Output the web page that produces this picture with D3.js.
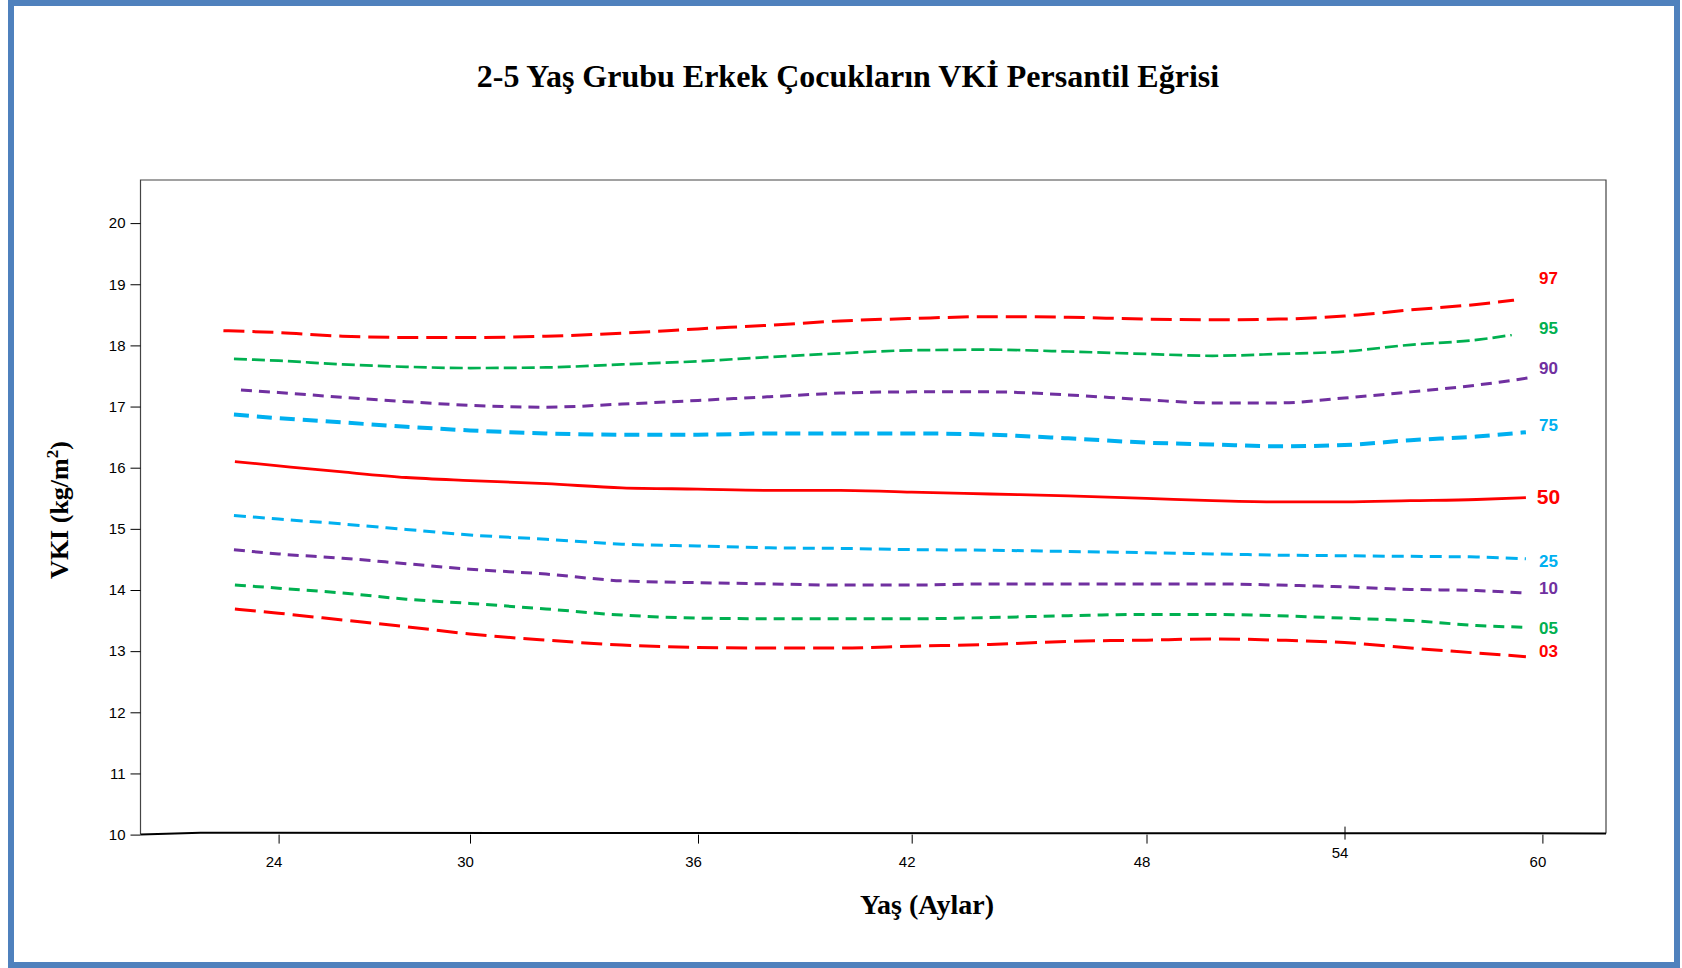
<!DOCTYPE html>
<html><head><meta charset="utf-8">
<script src="https://cdn.jsdelivr.net/npm/d3@7"></script>
<style>html,body{margin:0;padding:0;background:#fff;} svg{display:block}</style>
</head><body><svg id="c" width="1682" height="968"></svg>
<script>
// ---------------- DATA ----------------
const chartTitle = "2-5 Yaş Grubu Erkek Çocukların VKİ Persantil Eğrisi";
const xTitle = "Yaş (Aylar)";
const xTicks = [24, 30, 36, 42, 48, 54, 60];
const yTicks = [10, 11, 12, 13, 14, 15, 16, 17, 18, 19, 20];
// sample months (first/last replaced per series)
const months = [22.6, 24, 26, 28, 30, 32, 34, 36, 38, 40, 42, 44, 46, 48, 50, 52, 54, 56, 58, 59.5];
const seriesNames = ["97", "95", "90", "75", "50", "25", "10", "05", "03"];
const firstMonth = [22.27, 22.6, 22.82, 22.6, 22.63, 22.6, 22.6, 22.63, 22.63];
const lastMonth  = [59.14, 59.07, 59.72, 59.5, 59.5, 59.5, 59.5, 59.52, 59.5];
const p97 = [18.24, 18.21, 18.15, 18.13, 18.13, 18.15, 18.20, 18.27, 18.33, 18.40, 18.44, 18.47, 18.46, 18.43, 18.42, 18.43, 18.48, 18.58, 18.67, 18.74];
const p95 = [17.78, 17.75, 17.69, 17.65, 17.63, 17.64, 17.69, 17.74, 17.81, 17.87, 17.92, 17.93, 17.90, 17.86, 17.83, 17.86, 17.90, 18.01, 18.09, 18.17];
const p90 = [17.27, 17.23, 17.15, 17.08, 17.02, 16.99, 17.04, 17.10, 17.16, 17.22, 17.24, 17.24, 17.19, 17.11, 17.06, 17.06, 17.14, 17.24, 17.35, 17.48];
const p75 = [16.87, 16.81, 16.74, 16.67, 16.61, 16.56, 16.54, 16.54, 16.56, 16.56, 16.56, 16.54, 16.48, 16.41, 16.38, 16.35, 16.37, 16.45, 16.51, 16.58];
const p50 = [16.10, 16.03, 15.93, 15.84, 15.79, 15.74, 15.67, 15.65, 15.63, 15.63, 15.60, 15.57, 15.54, 15.50, 15.46, 15.44, 15.44, 15.46, 15.48, 15.51];
const p25 = [15.22, 15.16, 15.08, 14.99, 14.90, 14.83, 14.75, 14.72, 14.69, 14.68, 14.66, 14.65, 14.63, 14.61, 14.59, 14.57, 14.56, 14.55, 14.54, 14.51];
const p10 = [14.66, 14.59, 14.52, 14.43, 14.34, 14.26, 14.15, 14.12, 14.10, 14.08, 14.08, 14.10, 14.10, 14.10, 14.10, 14.08, 14.05, 14.01, 13.99, 13.95];
const p05 = [14.08, 14.03, 13.95, 13.85, 13.78, 13.69, 13.59, 13.54, 13.53, 13.53, 13.53, 13.55, 13.58, 13.60, 13.60, 13.58, 13.54, 13.50, 13.42, 13.39];
const p03 = [13.69, 13.62, 13.51, 13.40, 13.28, 13.18, 13.10, 13.06, 13.05, 13.05, 13.08, 13.11, 13.16, 13.18, 13.20, 13.18, 13.14, 13.05, 12.97, 12.91];
const seriesValues = [p97, p95, p90, p75, p50, p25, p10, p05, p03];

// ---------------- STYLES / LAYOUT ----------------
const red = "#FF0000", green = "#00B050", purple = "#7030A0", blue = "#00B0F0";
const styles = [
  {color: red,    dash: "21,8", w: 3,   fs: 17, dy: -22},
  {color: green,  dash: "13,5", w: 2.7, fs: 17, dy: -7},
  {color: purple, dash: "11,7", w: 3,   fs: 17, dy: -9},
  {color: blue,   dash: "15,8", w: 4,   fs: 17, dy: -7},
  {color: red,    dash: null,   w: 2.8, fs: 21, dy: -1},
  {color: blue,   dash: "12,7", w: 3,   fs: 17, dy: 3},
  {color: purple, dash: "11,7", w: 3,   fs: 17, dy: -5},
  {color: green,  dash: "11,7", w: 3,   fs: 17, dy: 1},
  {color: red,    dash: "21,8", w: 3,   fs: 17, dy: -5}
];
const plot = {left: 140.5, right: 1606, top: 180};
const xTickPx = [278.6, 470, 698, 911.7, 1146.5, 1344.5, 1542.4];

const svg = d3.select("#c");
const x = d3.scaleLinear().domain(xTicks).range(xTickPx);
const y = d3.scaleLinear().domain([10, 20]).range([834.6, 223.1]);
const yBottom = y(10);

// frame
svg.append("rect").attr("x", 11).attr("y", 3).attr("width", 1666).attr("height", 962)
  .attr("fill", "none").attr("stroke", "#4F81BD").attr("stroke-width", 6);

// title
svg.append("text").attr("x", 848).attr("y", 87).attr("text-anchor", "middle")
  .attr("font-family", "'Liberation Serif','Times New Roman',serif").attr("font-weight", "bold")
  .attr("font-size", 32).attr("fill", "#000").text(chartTitle);

// plot box
const box = svg.append("g").attr("fill", "none");
box.append("path").attr("d", `M${plot.left},${yBottom} V${plot.top} H${plot.right} V${yBottom - 1}`)
  .attr("stroke", "#444").attr("stroke-width", 1.2);
box.append("path").attr("d", `M${plot.left},${yBottom} L${plot.left + 60},${yBottom - 1.8} L${plot.right},${yBottom - 1.2}`)
  .attr("stroke", "#000").attr("stroke-width", 2);

// y axis
const gy = svg.append("g").attr("transform", `translate(${plot.left},0)`)
  .call(d3.axisLeft(y).tickValues(yTicks).tickSize(10).tickPadding(5));
gy.select(".domain").remove();
gy.selectAll(".tick line").attr("stroke", "#000").attr("stroke-width", 1);
gy.selectAll(".tick text").attr("font-family", "'Liberation Sans',Arial,sans-serif")
  .attr("font-size", 15).attr("fill", "#000");

// x axis
const gx = svg.append("g").attr("transform", `translate(0,${yBottom})`)
  .call(d3.axisBottom(x).tickValues(xTicks).tickSize(9).tickPadding(13));
gx.select(".domain").remove();
gx.selectAll(".tick line").attr("stroke", "#000").attr("stroke-width", 1);
gx.selectAll(".tick text").attr("font-family", "'Liberation Sans Narrow','Arial Narrow',sans-serif")
  .attr("font-size", 15).attr("fill", "#000").attr("dx", -5);
gx.selectAll(".tick").filter(d => d === 54).each(function () {
  d3.select(this).select("line").attr("y1", -8).attr("y2", 5);
  d3.select(this).select("text").attr("y", 13);
});

// axis titles
svg.append("text").attr("x", 927).attr("y", 914).attr("text-anchor", "middle")
  .attr("font-family", "'Liberation Serif','Times New Roman',serif").attr("font-weight", "bold")
  .attr("font-size", 28).text(xTitle);
const yt = svg.append("text").attr("transform", "translate(68,510) rotate(-90)").attr("text-anchor", "middle")
  .attr("font-family", "'Liberation Serif','Times New Roman',serif").attr("font-weight", "bold")
  .attr("font-size", 26);
yt.append("tspan").text("VKI (kg/m");
yt.append("tspan").attr("font-size", 17).attr("dy", -10).text("2");
yt.append("tspan").attr("dy", 10).text(")");

// lines
const line = d3.line().x(d => x(d[0])).y(d => y(d[1])).curve(d3.curveMonotoneX);
seriesValues.forEach((vals, i) => {
  const xs = months.slice();
  xs[0] = firstMonth[i];
  xs[xs.length - 1] = lastMonth[i];
  const pts = vals.map((v, j) => [xs[j], v]);
  const st = styles[i];
  svg.append("path").datum(pts).attr("d", line).attr("fill", "none")
    .attr("stroke", st.color).attr("stroke-width", st.w)
    .attr("stroke-dasharray", st.dash).attr("stroke-linejoin", "round");
  svg.append("text").attr("x", x(60) + 6).attr("y", y(vals[vals.length - 1]) + st.dy)
    .attr("text-anchor", "middle").attr("dominant-baseline", "central")
    .attr("font-family", "'Liberation Sans',Arial,sans-serif").attr("font-weight", "bold")
    .attr("font-size", st.fs).attr("fill", st.color).text(seriesNames[i]);
});
</script></body></html>
